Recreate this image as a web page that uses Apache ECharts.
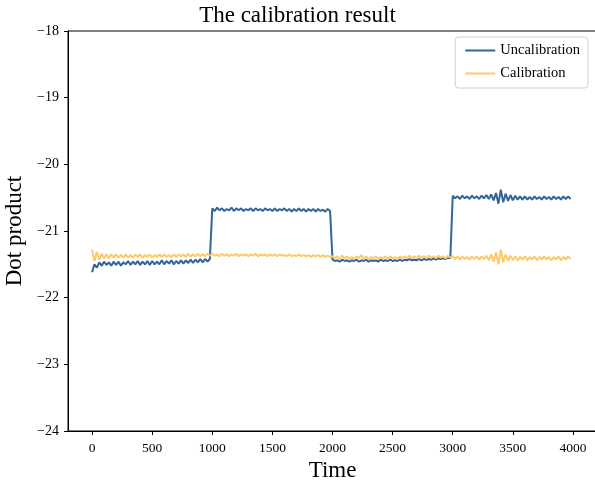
<!DOCTYPE html>
<html>
<head>
<meta charset="utf-8">
<script src="https://cdn.jsdelivr.net/npm/echarts@6/dist/echarts.min.js"></script>
<style>html,body{margin:0;padding:0;background:#fff}#c{width:595px;height:484px}</style>
</head>
<body>
<div id="c"></div>
<script>
// sampling step of the read-off values (time units)
var STEP = 20;
var xTicks = [0, 500, 1000, 1500, 2000, 2500, 3000, 3500, 4000];
var yTicks = [-24, -23, -22, -21, -20, -19, -18];

var uncal_0_1000 = [-21.62,-21.50,-21.55,-21.47,-21.52,-21.46,-21.51,-21.47,-21.52,-21.46,
-21.51,-21.46,-21.52,-21.47,-21.50,-21.45,-21.51,-21.46,-21.50,-21.45,
-21.51,-21.46,-21.50,-21.45,-21.51,-21.45,-21.50,-21.46,-21.50,-21.44,
-21.50,-21.45,-21.49,-21.44,-21.50,-21.45,-21.49,-21.44,-21.49,-21.44,
-21.48,-21.43,-21.48,-21.43,-21.47,-21.42,-21.47,-21.42,-21.46,-21.42];
var uncal_1000_2000 = [-20.66,-20.70,-20.65,-20.69,-20.66,-20.70,-20.67,-20.69,-20.65,-20.70,
-20.66,-20.69,-20.66,-20.70,-20.67,-20.69,-20.66,-20.70,-20.66,-20.69,
-20.67,-20.70,-20.66,-20.69,-20.67,-20.70,-20.66,-20.70,-20.67,-20.69,
-20.66,-20.70,-20.67,-20.71,-20.67,-20.70,-20.66,-20.70,-20.67,-20.71,
-20.67,-20.70,-20.67,-20.71,-20.67,-20.70,-20.68,-20.71,-20.67,-20.70];
var uncal_2000_3000 = [-21.43,-21.45,-21.44,-21.46,-21.43,-21.45,-21.44,-21.46,-21.44,-21.45,
-21.43,-21.46,-21.44,-21.45,-21.43,-21.46,-21.44,-21.45,-21.44,-21.46,
-21.43,-21.45,-21.44,-21.45,-21.43,-21.45,-21.44,-21.45,-21.43,-21.45,
-21.43,-21.44,-21.42,-21.44,-21.43,-21.44,-21.42,-21.44,-21.42,-21.43,
-21.42,-21.43,-21.41,-21.43,-21.41,-21.42,-21.41,-21.42,-21.40,-21.41];
var uncal_3000_4000 = [-20.47,-20.51,-20.48,-20.52,-20.47,-20.51,-20.48,-20.52,-20.47,-20.51,
-20.48,-20.52,-20.47,-20.51,-20.46,-20.52,-20.45,-20.54,-20.43,-20.59,
-20.38,-20.57,-20.44,-20.55,-20.46,-20.54,-20.47,-20.53,-20.48,-20.53,
-20.48,-20.53,-20.49,-20.53,-20.48,-20.52,-20.49,-20.53,-20.48,-20.52,
-20.49,-20.53,-20.48,-20.52,-20.49,-20.53,-20.48,-20.52,-20.48,-20.52];

var cal_0_1000 = [-21.28,-21.45,-21.31,-21.43,-21.34,-21.41,-21.35,-21.41,-21.35,-21.40,
-21.35,-21.40,-21.36,-21.40,-21.35,-21.40,-21.36,-21.40,-21.35,-21.39,
-21.35,-21.40,-21.36,-21.39,-21.35,-21.40,-21.36,-21.39,-21.35,-21.39,
-21.35,-21.39,-21.36,-21.39,-21.35,-21.39,-21.35,-21.38,-21.35,-21.39,
-21.34,-21.38,-21.35,-21.38,-21.34,-21.38,-21.35,-21.38,-21.34,-21.37];
var cal_1000_2000 = [-21.34,-21.37,-21.35,-21.38,-21.34,-21.37,-21.35,-21.38,-21.35,-21.37,
-21.34,-21.38,-21.35,-21.37,-21.35,-21.38,-21.35,-21.37,-21.34,-21.38,
-21.35,-21.37,-21.35,-21.38,-21.35,-21.37,-21.35,-21.38,-21.35,-21.37,
-21.36,-21.38,-21.35,-21.38,-21.36,-21.38,-21.35,-21.38,-21.36,-21.38,
-21.36,-21.39,-21.36,-21.38,-21.36,-21.39,-21.36,-21.39,-21.37,-21.39];
var cal_2000_3000 = [-21.38,-21.41,-21.38,-21.42,-21.37,-21.41,-21.38,-21.42,-21.39,-21.42,
-21.38,-21.41,-21.36,-21.42,-21.38,-21.42,-21.39,-21.41,-21.38,-21.42,
-21.39,-21.41,-21.38,-21.42,-21.38,-21.41,-21.39,-21.42,-21.38,-21.41,
-21.38,-21.41,-21.37,-21.41,-21.38,-21.41,-21.37,-21.40,-21.38,-21.41,
-21.37,-21.40,-21.38,-21.41,-21.37,-21.40,-21.38,-21.41,-21.37,-21.40];
var cal_3000_4000 = [-21.38,-21.42,-21.38,-21.43,-21.38,-21.42,-21.39,-21.43,-21.38,-21.42,
-21.38,-21.43,-21.38,-21.42,-21.37,-21.44,-21.35,-21.46,-21.32,-21.50,
-21.28,-21.47,-21.35,-21.45,-21.37,-21.44,-21.38,-21.44,-21.39,-21.43,
-21.38,-21.44,-21.39,-21.43,-21.38,-21.44,-21.39,-21.43,-21.38,-21.43,
-21.39,-21.44,-21.39,-21.43,-21.38,-21.44,-21.39,-21.43,-21.38,-21.42];

function pairs(segs) {
  var out = [], k = 0;
  segs.forEach(function (s) { s.forEach(function (v) { out.push([k * STEP, v]); k++; }); });
  return out;
}
var uncalData = pairs([uncal_0_1000, uncal_1000_2000, uncal_2000_3000, uncal_3000_4000]);
var calData = pairs([cal_0_1000, cal_1000_2000, cal_2000_3000, cal_3000_4000]);

var FONT = '"Liberation Serif","Times New Roman",serif';
function fmt(v) { return String(v).replace('-', '\u2212'); }

var chart = echarts.init(document.getElementById('c'), null, {renderer: 'canvas'});
chart.setOption({
  animation: false,
  backgroundColor: '#fff',
  title: {
    text: 'The calibration result', left: 'center', top: -1,
    textStyle: {fontFamily: FONT, fontSize: 23, fontWeight: 'normal', color: '#000'}
  },
  legend: {
    orient: 'vertical', right: 7, top: 37,
    backgroundColor: '#fff', borderColor: '#d0d0d0', borderWidth: 1, borderRadius: 3,
    padding: [6, 8, 7, 9], itemGap: 8, itemWidth: 30, itemHeight: 14,
    itemStyle: {opacity: 0},
    textStyle: {fontFamily: FONT, fontSize: 14.5, color: '#000'},
    data: ['Uncalibration', 'Calibration']
  },
  grid: {left: 68, right: -2, top: 31, bottom: 53, containLabel: false, outerBoundsMode: 'none',
    show: true, borderColor: '#000', borderWidth: 1},
  xAxis: {
    type: 'value', min: -200, max: 4200,
    name: 'Time', nameLocation: 'middle', nameGap: 27,
    nameTextStyle: {fontFamily: FONT, fontSize: 23, color: '#000'},
    axisLine: {show: true, onZero: false, lineStyle: {color: '#000', width: 1}},
    axisTick: {show: true, length: 4, lineStyle: {color: '#000'}, customValues: xTicks},
    axisLabel: {fontFamily: FONT, fontSize: 13.5, color: '#000', margin: 10, customValues: xTicks, formatter: fmt},
    splitLine: {show: false}
  },
  yAxis: {
    type: 'value', min: -24, max: -18, interval: 1,
    name: 'Dot product', nameLocation: 'middle', nameGap: 37, nameRotate: 90,
    nameTextStyle: {fontFamily: FONT, fontSize: 23, color: '#000'},
    axisLine: {show: true, onZero: false, lineStyle: {color: '#000', width: 1}},
    axisTick: {show: true, length: 4, lineStyle: {color: '#000'}, customValues: yTicks},
    axisLabel: {fontFamily: FONT, fontSize: 14, color: '#000', margin: 9, customValues: yTicks, formatter: fmt},
    splitLine: {show: false}
  },
  series: [
    {name: 'Uncalibration', type: 'line', data: uncalData, symbol: 'none',
      color: '#32659a', lineStyle: {width: 2, color: '#32659a'}},
    {name: 'Calibration', type: 'line', data: calData, symbol: 'none',
      color: '#fec96b', lineStyle: {width: 2, color: '#fec96b'}}
  ]
});
</script>
</body>
</html>
